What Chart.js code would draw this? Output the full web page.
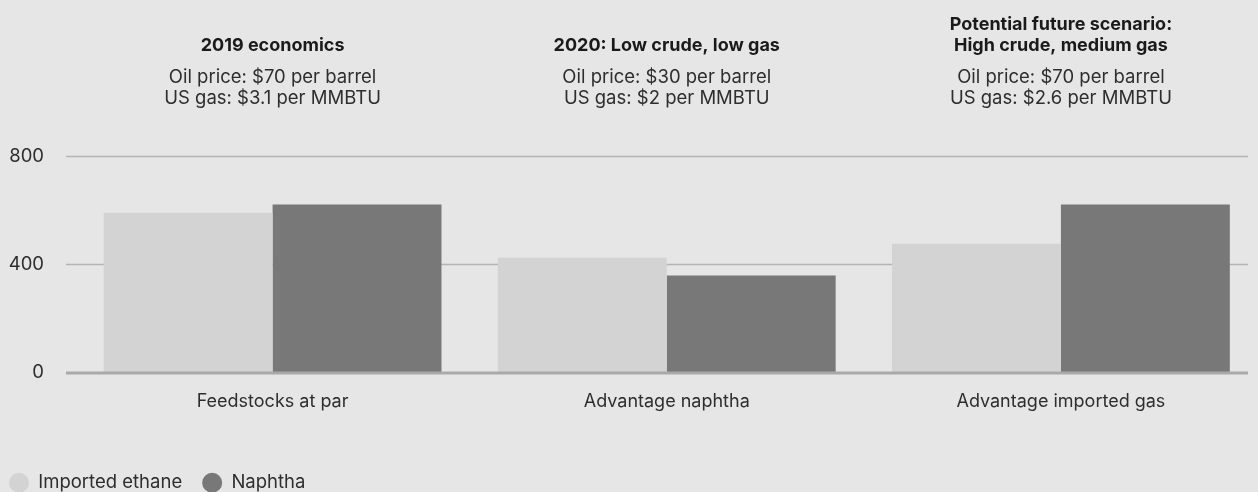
<!DOCTYPE html>
<html>
<head>
<meta charset="utf-8">
<title>Ethylene cash cost by feedstock</title>
<script src="https://cdn.jsdelivr.net/npm/chart.js"></script>
<style>
  html, body { margin: 0; padding: 0; background: #e6e6e6; overflow: hidden; }
  .chart-box { position: relative; width: 1258px; height: 502px; }
</style>
</head>
<body>
<div class="chart-box"><canvas id="feedstockChart"></canvas></div>
<script>
const categories = ['Feedstocks at par', 'Advantage naphtha', 'Advantage imported gas'];
const importedEthane = [590, 423, 475];
const naphtha = [620, 357, 620];
const yTicks = [0, 400, 800];

// scenario headings and price notes printed above each group
const scenarioTitles = [
    ['2019 economics'],
    ['2020: Low crude, low gas'],
    ['Potential future scenario:', 'High crude, medium gas']
];
const scenarioNotes = [
    ['Oil price: $70 per barrel', 'US gas: $3.1 per MMBTU'],
    ['Oil price: $30 per barrel', 'US gas: $2 per MMBTU'],
    ['Oil price: $70 per barrel', 'US gas: $2.6 per MMBTU']
];

const FONT = 'Inter, "Noto Sans", sans-serif';
Chart.defaults.font.family = FONT;
Chart.defaults.color = '#2e2e2e';

// horizontal rules start a bit left of the plot and stop short of the right edge
const rulesPlugin = {
    id: 'rules',
    beforeDatasetsDraw(chart) {
        const { ctx, chartArea, scales: { y } } = chart;
        ctx.save();
        ctx.strokeStyle = '#b4b4b4';
        ctx.lineWidth = 1.3;
        y.ticks.forEach(t => {
            if (t.value === 0) return;
            const py = Math.round(y.getPixelForValue(t.value)) + 0.5;
            ctx.beginPath();
            ctx.moveTo(chartArea.left - 9.5, py);
            ctx.lineTo(chartArea.right - 10, py);
            ctx.stroke();
        });
        ctx.restore();
    },
    afterDatasetsDraw(chart) {
        // heavier baseline at zero
        const { ctx, chartArea, scales: { y } } = chart;
        const py = y.getPixelForValue(0) + 1;
        ctx.save();
        ctx.strokeStyle = '#a9a9a9';
        ctx.lineWidth = 3;
        ctx.beginPath();
        ctx.moveTo(chartArea.left - 9.5, py);
        ctx.lineTo(chartArea.right - 10, py);
        ctx.stroke();
        ctx.restore();
    }
};

const scenarioPlugin = {
    id: 'scenarios',
    afterDraw(chart) {
        const { ctx, scales: { x } } = chart;
        ctx.save();
        ctx.textAlign = 'center';
        ctx.textBaseline = 'middle';
        categories.forEach((c, i) => {
            const cx = x.getPixelForValue(i);
            const titles = scenarioTitles[i];
            ctx.font = 'bold 18px ' + FONT;
            ctx.fillStyle = '#1a1a1a';
            titles.forEach((line, j) => {
                ctx.fillText(line, cx, 46 - (titles.length - 1 - j) * 21);
            });
            ctx.font = '18.5px ' + FONT;
            ctx.fillStyle = '#2e2e2e';
            scenarioNotes[i].forEach((line, j) => {
                ctx.fillText(line, cx, 77 + j * 21);
            });
        });
        ctx.restore();
    }
};

new Chart(document.getElementById('feedstockChart'), {
    type: 'bar',
    data: {
        labels: categories,
        datasets: [
            { label: 'Imported ethane', data: importedEthane, backgroundColor: '#d3d3d3' },
            { label: 'Naphtha', data: naphtha, backgroundColor: '#787878' }
        ]
    },
    options: {
        responsive: true,
        maintainAspectRatio: false,
        animation: false,
        layout: { padding: { top: 156, left: -11, right: 0, bottom: 0 } },
        datasets: { bar: { barPercentage: 1, categoryPercentage: 0.857 } },
        scales: {
            x: {
                grid: { display: false, drawTicks: false },
                border: { display: false },
                ticks: { padding: 19, font: { size: 18 } },
                afterFit(scale) { scale.height = 81.5; }
            },
            y: {
                min: 0,
                max: 800,
                afterBuildTicks(scale) { scale.ticks = yTicks.map(v => ({ value: v })); },
                grid: { display: false, drawTicks: false },
                border: { display: false },
                ticks: { padding: 31.5, font: { size: 18.5 } },
                afterFit(scale) { scale.width = 86.5; }
            }
        },
        plugins: {
            legend: {
                position: 'bottom',
                align: 'start',
                labels: {
                    usePointStyle: true,
                    pointStyle: 'circle',
                    pointStyleWidth: 20,
                    boxHeight: 14.14,
                    padding: 20,
                    font: { size: 18.5 }
                }
            },
            tooltip: { enabled: false }
        }
    },
    plugins: [rulesPlugin, scenarioPlugin]
});
</script>
</body>
</html>
